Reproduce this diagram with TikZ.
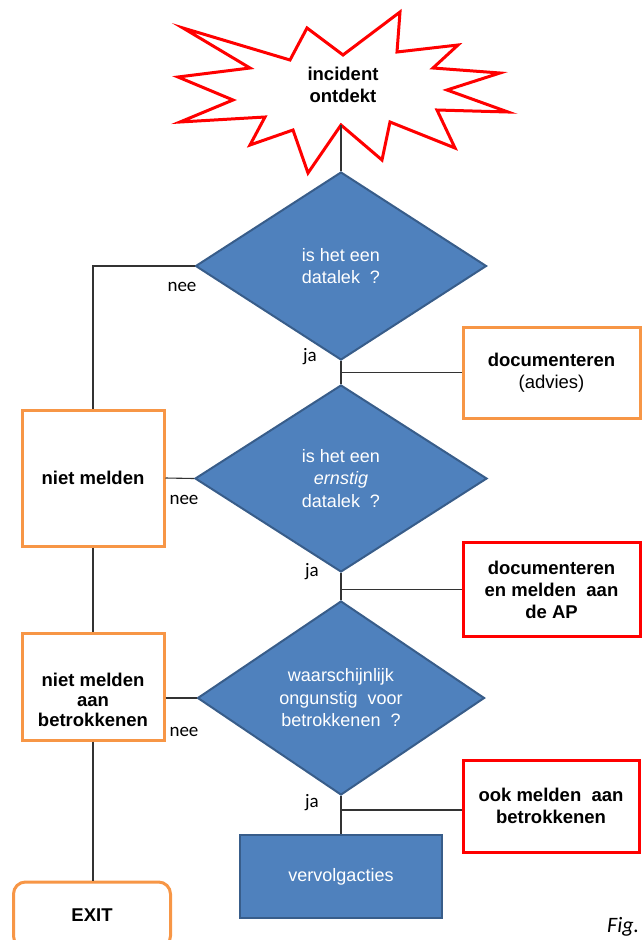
\documentclass[tikz,border=0pt]{standalone}
\usepackage{fontspec}
\setmainfont{Liberation Sans}
\newfontfamily\calfont{Carlito}
\usepackage{xcolor}
\usetikzlibrary{shapes,positioning,calc}

\definecolor{boxorange}{HTML}{F79646}
\definecolor{boxred}{HTML}{FF0000}
\definecolor{dfill}{HTML}{4F81BD}
\definecolor{dline}{HTML}{385D8A}

\begin{document}
\begin{tikzpicture}[x=1pt,y=-1pt,
    conn/.style={draw=black!80,line width=1.1pt},
    obox/.style={draw=boxorange,line width=3pt,fill=white,align=center,font=\fontsize{18.5}{22}\selectfont\bfseries,inner sep=0pt},
    rbox/.style={draw=boxred,line width=3pt,fill=white,align=center,font=\fontsize{18.5}{22}\selectfont\bfseries,inner sep=0pt},
    quest/.style={diamond,draw=dline,line width=2pt,fill=dfill,text=white,align=center,inner sep=0pt,font=\fontsize{18}{22.5}\selectfont},
    lbl/.style={font=\calfont\fontsize{19}{20}\selectfont,inner sep=0pt}]
    \useasboundingbox (0,0) rectangle (641,940);

    % start: the burst
    \draw[boxred,line width=3pt,fill=white,line join=miter]
        (183,28) -- (290,60) -- (307,28) -- (343,55) -- (400,12) -- (397,52)
        -- (458,45) -- (433,68) -- (500,73) -- (447,90) -- (508,112) -- (437,110)
        -- (455,148) -- (390,122) -- (382,160) -- (341,125) -- (308,173) -- (293,130)
        -- (250,145) -- (265,117) -- (180,122) -- (233,100) -- (178,77) -- (250,68) -- cycle;
    \node[font=\fontsize{18.5}{22}\selectfont\bfseries,align=center] (start) at (343,85) {incident\\ontdekt};
    \coordinate (burstfoot) at (341,125);

    % questions
    \node[quest,minimum width=291,minimum height=188] (d1) at (341,266) {is het een\\datalek ~?};
    \node[quest,minimum width=292,minimum height=187] (d2) at (341,478.5) {is het een\\\textit{ernstig}\\datalek ~?};
    \node[quest,minimum width=287,minimum height=194] (d3) at (341,698) {waarschijnlijk\\ongunstig ~voor\\betrokkenen ~?};

    % right hand boxes
    \node[obox,minimum width=177,minimum height=91] (doc1) at (551.5,372.5) {documenteren\\{\mdseries (advies)}};
    \node[rbox,minimum width=177,minimum height=94] (doc2) at (551.5,589.5) {documenteren\\en melden ~aan\\de AP};
    \node[rbox,minimum width=176,minimum height=92] (ook) at (551,806) {ook melden ~aan\\betrokkenen};
    \node[draw=dline,line width=2.5pt,fill=dfill,text=white,font=\fontsize{18}{22}\selectfont,minimum width=202,minimum height=83] (vv) at (341,876.5) {vervolgacties};

    % left hand boxes
    \node[obox,minimum width=142,minimum height=136] (nm) at (93,478) {niet melden};
    \node[obox,minimum width=142,minimum height=107] (nmb) at (93,686.5) {};
    \node[font=\fontsize{18.5}{20}\selectfont\bfseries,align=center] (nmbtext) at (93,700) {niet melden\\aan\\betrokkenen};
    \node[obox,rounded corners=12pt,minimum width=157,minimum height=66] (exit) at (92,915) {EXIT};

    % connectors
    \draw[conn] (burstfoot) -- (d1.north);
    \draw[conn] (d1.west) -| (nm.north);
    \draw[conn] (d1.south) -- (d2.north);
    \coordinate (j1) at (d1.south |- doc1.west);
    \draw[conn] (j1) -- (doc1.west);
    \draw[conn] (nm.east) -- (d2.west);
    \draw[conn] (nm.south) -- (nmb.north);
    \draw[conn] (d2.south) -- (d3.north);
    \coordinate (j2) at (d2.south |- doc2.west);
    \draw[conn] (j2) -- (doc2.west);
    \draw[conn] (d3.west -| nmb.east) -- (d3.west);
    \draw[conn] (nmb.south) -- (nmb.south |- exit.north);
    \draw[conn] (d3.south) -- (vv.north);
    \coordinate (j3) at (341,810);
    \draw[conn] (j3) -- (j3 -| ook.west);

    % answers
    \node[lbl] (nee1) at (182,287) {nee};
    \node[lbl] (ja1) at (310,357) {ja};
    \node[lbl] (nee2) at (184,500) {nee};
    \node[lbl] (ja2) at (312,572) {ja};
    \node[lbl] (nee3) at (184,732) {nee};
    \node[lbl] (ja3) at (312,803) {ja};

    \node[font=\calfont\itshape\fontsize{22}{24}\selectfont,anchor=base west,inner sep=0pt] (fig) at (607,932) {Fig.};
\end{tikzpicture}
\end{document}
